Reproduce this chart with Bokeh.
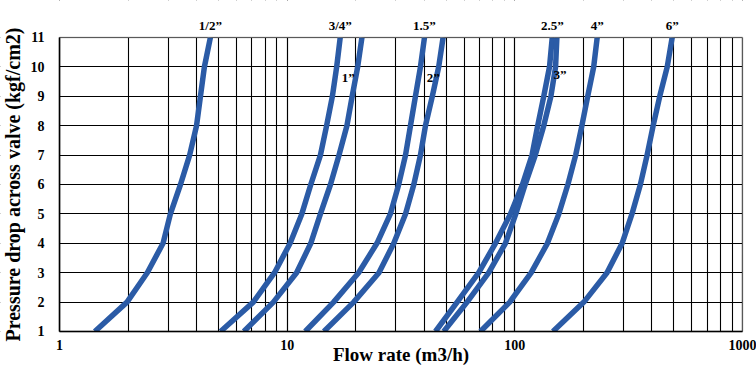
from bokeh.plotting import figure
from bokeh.models import (Label, LogTicker, NumeralTickFormatter, SingleIntervalTicker,
                          Range1d, BoxAnnotation)
from bokeh.embed import file_html
from bokeh.resources import INLINE

# Pressure drop values (kgf/cm2) at which the flow was read
pressure = [1, 2, 3, 4, 5, 6, 7, 8, 9, 10, 11]

# Flow rate (m3/h) for each valve size at the pressures above
half_inch = [1.43, 1.98, 2.43, 2.85, 3.07, 3.40, 3.73, 4.00, 4.16, 4.33, 4.60]
three_quarter_inch = [5.1, 7.1, 8.8, 10.3, 11.6, 12.7, 14.0, 14.9, 15.8, 16.5, 17.1]
one_inch = [6.45, 8.7, 11.0, 12.7, 14.0, 15.5, 16.9, 18.3, 19.3, 20.4, 21.3]
one_half_inch = [12.0, 16.0, 20.6, 24.8, 28.4, 30.9, 33.1, 34.8, 36.6, 38.5, 40.1]
two_inch = [14.5, 19.6, 25.3, 29.4, 33.1, 36.0, 38.5, 40.5, 43.4, 46.3, 48.4]
two_half_inch = [44.8, 55.8, 69.4, 82.2, 95.7, 108, 119, 126, 134, 142, 146]
three_inch = [48.7, 61.7, 76.8, 90.9, 101, 111, 123, 134, 144, 151, 153]
four_inch = [70.6, 95, 118, 139, 156, 171, 185, 197, 209, 222, 230]
six_inch = [147, 201, 254, 296, 327, 356, 381, 405, 433, 467, 491]

series = [half_inch, three_quarter_inch, one_inch, one_half_inch, two_inch,
          two_half_inch, three_inch, four_inch, six_inch]

# labels drawn above the curve tops
top_labels = [("1/2\u201d", half_inch), ("3/4\u201d", three_quarter_inch),
              ("1.5\u201d", one_half_inch), ("2.5\u201d", two_half_inch),
              ("4\u201d", four_inch), ("6\u201d", six_inch)]
# labels drawn inside the plot beside the curves
side_labels = [("1\u201d", one_inch, "right", -3, -11),
               ("2\u201d", two_inch, "right", 1, -11),
               ("3\u201d", three_inch, "left", -2, -8)]

x_label = "Flow rate (m3/h)"
y_label = "Pressure drop across valve (kgf/cm2)"

FONT = "Liberation Serif"
BLUE = "#2b5ba6"

# chart grid extents
X_MIN, X_MAX = 1, 1000
Y_MIN, Y_MAX = 1, 11
# the visible ranges are wider so that the axes, labels and ticks around the
# grid sit inside the drawing area
X_LEFT, X_RIGHT = 0.5507, 1152.0
Y_BOT, Y_TOP = -0.2245, 12.2585

p = figure(width=756, height=367, x_axis_type="log",
           x_range=Range1d(X_LEFT, X_RIGHT), y_range=Range1d(Y_BOT, Y_TOP),
           output_backend="svg", toolbar_location=None,
           min_border_left=0, min_border_right=0,
           min_border_top=0, min_border_bottom=0)

p.background_fill_color = "white"
p.border_fill_color = "white"
p.outline_line_color = None

p.xaxis.ticker = LogTicker(num_minor_ticks=10)
p.xaxis.formatter = NumeralTickFormatter(format="0")
p.xaxis.fixed_location = Y_MIN
p.xaxis.bounds = (X_MIN, X_MAX)
p.yaxis.ticker = SingleIntervalTicker(interval=1)
p.yaxis.fixed_location = X_MIN
p.yaxis.bounds = (Y_MIN, Y_MAX)

for ax in (p.xaxis[0], p.yaxis[0]):
    ax.axis_line_color = "black"
    ax.axis_line_width = 1.5
    ax.major_tick_line_color = None
    ax.minor_tick_line_color = None
    ax.major_label_text_font = FONT
    ax.major_label_text_font_style = "bold"
    ax.major_label_text_font_size = "14px"
    ax.major_label_text_color = "black"
    ax.axis_label_text_font = FONT
    ax.axis_label_text_font_style = "bold"
    ax.axis_label_text_color = "black"

p.xaxis.axis_label = x_label
p.yaxis.axis_label = y_label
p.xaxis.axis_label_text_font_size = "19px"
p.yaxis.axis_label_text_font_size = "20px"
p.xaxis.major_label_standoff = 3
p.xaxis.axis_label_standoff = -10
p.yaxis.major_label_standoff = 9
p.yaxis.axis_label_standoff = 4

p.xgrid.ticker = p.xaxis[0].ticker
p.ygrid.ticker = p.yaxis[0].ticker
p.xgrid.grid_line_color = "black"
p.xgrid.grid_line_width = 1.1
p.xgrid.minor_grid_line_color = "black"
p.xgrid.minor_grid_line_width = 1.1
p.ygrid.grid_line_color = "black"
p.ygrid.grid_line_width = 1.1

for s in series:
    p.line(s, pressure, line_width=5.5, line_color=BLUE, line_join="round")

# blank out the margins around the grid, then draw the chart frame
for box in (dict(bottom=Y_MAX), dict(top=Y_MIN), dict(left=X_MAX), dict(right=X_MIN)):
    p.add_layout(BoxAnnotation(fill_color="white", fill_alpha=1.0,
                               line_color=None, level="glyph", **box))
p.add_layout(BoxAnnotation(left=X_MIN, right=X_MAX, bottom=Y_MIN, top=Y_MAX,
                           fill_alpha=0, line_color="black", line_width=1.5))

for text, s in top_labels:
    p.add_layout(Label(x=s[-1], y=pressure[-1], y_offset=4, text=text,
                       text_align="center", text_baseline="bottom",
                       text_font=FONT, text_font_style="bold",
                       text_font_size="13px", text_color="black"))

for text, s, align, dx, dy in side_labels:
    p.add_layout(Label(x=s[-2], y=pressure[-2], x_offset=dx, y_offset=dy, text=text,
                       text_align=align, text_baseline="middle",
                       text_font=FONT, text_font_style="bold",
                       text_font_size="13px", text_color="black"))

open("out.html", "w").write(file_html(p, INLINE))
